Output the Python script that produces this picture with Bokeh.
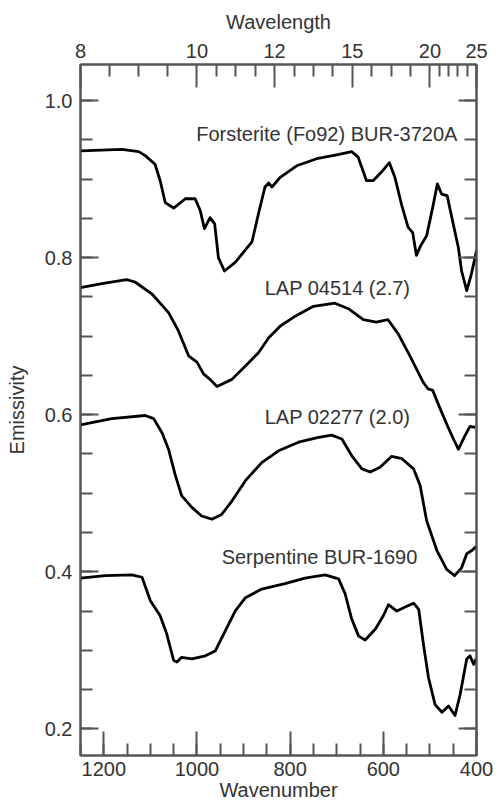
import numpy as np
from bokeh.plotting import figure
from bokeh.models import (Range1d, LinearAxis, SingleIntervalTicker, FixedTicker,
                          PrintfTickFormatter, CustomJSTickFormatter)
from bokeh.core.properties import value
from bokeh.embed import file_html
from bokeh.resources import INLINE

# ---------------- data ----------------
forsterite_wn = [1250, 1161, 1125, 1111, 1090, 1079, 1068, 1050, 1025, 1004, 993, 984, 972, 962, 954, 941,
                 918, 882, 868, 854, 846, 839, 822, 786, 743, 700, 668, 654, 636, 622, 604, 587, 575,
                 561, 547, 537, 529, 520, 507, 494, 484, 475, 463, 450, 439, 432, 421, 411, 400]
forsterite_e = [0.936, 0.938, 0.935, 0.930, 0.919, 0.898, 0.870, 0.863, 0.875, 0.875, 0.860, 0.837, 0.851,
                0.843, 0.800, 0.783, 0.794, 0.820, 0.856, 0.890, 0.895, 0.890, 0.902, 0.917, 0.926, 0.931,
                0.935, 0.928, 0.898, 0.898, 0.909, 0.921, 0.902, 0.868, 0.839, 0.832, 0.803, 0.815, 0.828,
                0.864, 0.894, 0.881, 0.879, 0.843, 0.813, 0.783, 0.758, 0.779, 0.809]

lap04514_wn = [1250, 1204, 1151, 1133, 1097, 1061, 1040, 1018, 1000, 986, 972, 957, 925, 896, 868, 846,
               821, 793, 750, 704, 675, 643, 615, 590, 568, 543, 514, 504, 494, 479, 461, 451, 439, 425,
               414, 403]
lap04514_e = [0.762, 0.767, 0.772, 0.769, 0.754, 0.730, 0.707, 0.675, 0.667, 0.652, 0.645, 0.636, 0.645,
              0.662, 0.679, 0.698, 0.713, 0.724, 0.738, 0.742, 0.735, 0.721, 0.718, 0.721, 0.703, 0.675,
              0.641, 0.633, 0.631, 0.609, 0.584, 0.571, 0.556, 0.573, 0.585, 0.584]

lap02277_wn = [1250, 1183, 1111, 1093, 1075, 1061, 1047, 1033, 1011, 990, 968, 947, 925, 896, 861, 825,
               782, 739, 711, 689, 668, 646, 628, 607, 582, 560, 535, 521, 507, 485, 464, 447, 432, 421,
               410, 401]
lap02277_e = [0.587, 0.595, 0.599, 0.595, 0.577, 0.556, 0.524, 0.497, 0.482, 0.471, 0.467, 0.473, 0.490,
              0.516, 0.539, 0.554, 0.565, 0.571, 0.574, 0.569, 0.548, 0.531, 0.527, 0.533, 0.547, 0.544,
              0.531, 0.510, 0.465, 0.427, 0.403, 0.395, 0.405, 0.423, 0.427, 0.432]

serp_wn = [1250, 1197, 1140, 1118, 1100, 1079, 1065, 1050, 1043, 1033, 1011, 982, 961, 939, 918, 896,
           861, 811, 768, 725, 696, 682, 668, 653, 639, 617, 600, 589, 571, 553, 535, 524, 514, 503,
           489, 474, 460, 446, 435, 421, 414, 406, 401]
serp_e = [0.392, 0.395, 0.396, 0.393, 0.363, 0.344, 0.321, 0.287, 0.285, 0.291, 0.289, 0.293, 0.299,
          0.325, 0.350, 0.367, 0.378, 0.385, 0.392, 0.396, 0.391, 0.372, 0.340, 0.318, 0.313, 0.327,
          0.344, 0.358, 0.350, 0.355, 0.360, 0.352, 0.308, 0.265, 0.231, 0.221, 0.229, 0.217, 0.244,
          0.289, 0.293, 0.282, 0.289]

labels = ["Forsterite (Fo92) BUR-3720A", "LAP 04514 (2.7)", "LAP 02277 (2.0)", "Serpentine BUR-1690"]
label_x = [441, 542, 542, 527]
label_y = [0.957, 0.762, 0.597, 0.419]

y_major = [0.2, 0.4, 0.6, 0.8, 1.0]
wavelength_ticks = [8, 10, 12, 15, 20, 25]
wl_minor_counts = [3, 3, 3, 3, 4]

# ---------------- figure ----------------
FONT = "Liberation Sans"
TXT = "#333333"
AX = "#555555"

p = figure(width=498, height=803, output_backend="svg", toolbar_location=None,
           x_range=Range1d(1250, 400), y_range=Range1d(0.166, 1.046),
           x_axis_location=None, y_axis_location=None,
           min_border_left=80, min_border_right=22, min_border_top=64, min_border_bottom=48)
p.grid.visible = False
p.outline_line_color = AX
p.outline_line_width = 2
p.background_fill_color = "white"
p.border_fill_color = "white"

def style(ax, major_in, minor_in):
    ax.major_tick_in = major_in
    ax.major_tick_out = 0
    ax.minor_tick_in = minor_in
    ax.minor_tick_out = 0
    ax.major_tick_line_color = AX
    ax.minor_tick_line_color = AX
    ax.major_tick_line_width = 2
    ax.minor_tick_line_width = 2
    ax.axis_line_color = AX
    ax.axis_line_width = 2
    ax.major_label_text_font = FONT
    ax.major_label_text_font_size = "20px"
    ax.major_label_text_color = TXT
    ax.axis_label_text_font = FONT
    ax.axis_label_text_font_size = "20px"
    ax.axis_label_text_font_style = "normal"
    ax.axis_label_text_color = TXT

y_minor = list(np.round(np.arange(0.15, 1.0501, 0.05), 3))
yt = FixedTicker(ticks=y_major, minor_ticks=y_minor)

left = LinearAxis(ticker=yt, formatter=PrintfTickFormatter(format="%.1f"), axis_label="Emissivity")
style(left, 18, 12)
left.major_label_standoff = 8
left.axis_label_standoff = 14
p.add_layout(left, "left")

right = LinearAxis(ticker=yt, formatter=CustomJSTickFormatter(code="return ''"))
style(right, 18, 12)
right.major_label_standoff = 0
p.add_layout(right, "right")

bottom = LinearAxis(ticker=SingleIntervalTicker(interval=200, num_minor_ticks=4), axis_label="Wavenumber")
style(bottom, 24, 12)
bottom.major_label_standoff = 6
bottom.axis_label_standoff = 0
p.add_layout(bottom, "below")

wl_pos = [10000.0 / w for w in wavelength_ticks]
wl_minor = []
for i, n in enumerate(wl_minor_counts):
    a, b = wl_pos[i], wl_pos[i + 1]
    for k in range(1, n + 1):
        wl_minor.append(a + (b - a) * k / (n + 1))
top = LinearAxis(ticker=FixedTicker(ticks=wl_pos, minor_ticks=wl_minor),
                 formatter=CustomJSTickFormatter(code="return (10000/tick).toFixed(0)"),
                 axis_label="Wavelength")
style(top, 23, 12)
top.major_label_standoff = 7
top.axis_label_standoff = 8
p.add_layout(top, "above")

for wn, e in [(forsterite_wn, forsterite_e), (lap04514_wn, lap04514_e),
              (lap02277_wn, lap02277_e), (serp_wn, serp_e)]:
    p.line(wn, e, line_color="black", line_width=2.8, line_join="round")

p.text(x=label_x, y=label_y, text=labels, text_font=value(FONT), text_font_size="20px",
       text_color=TXT, text_align="right", text_baseline="middle")

open("out.html", "w").write(file_html(p, INLINE))
